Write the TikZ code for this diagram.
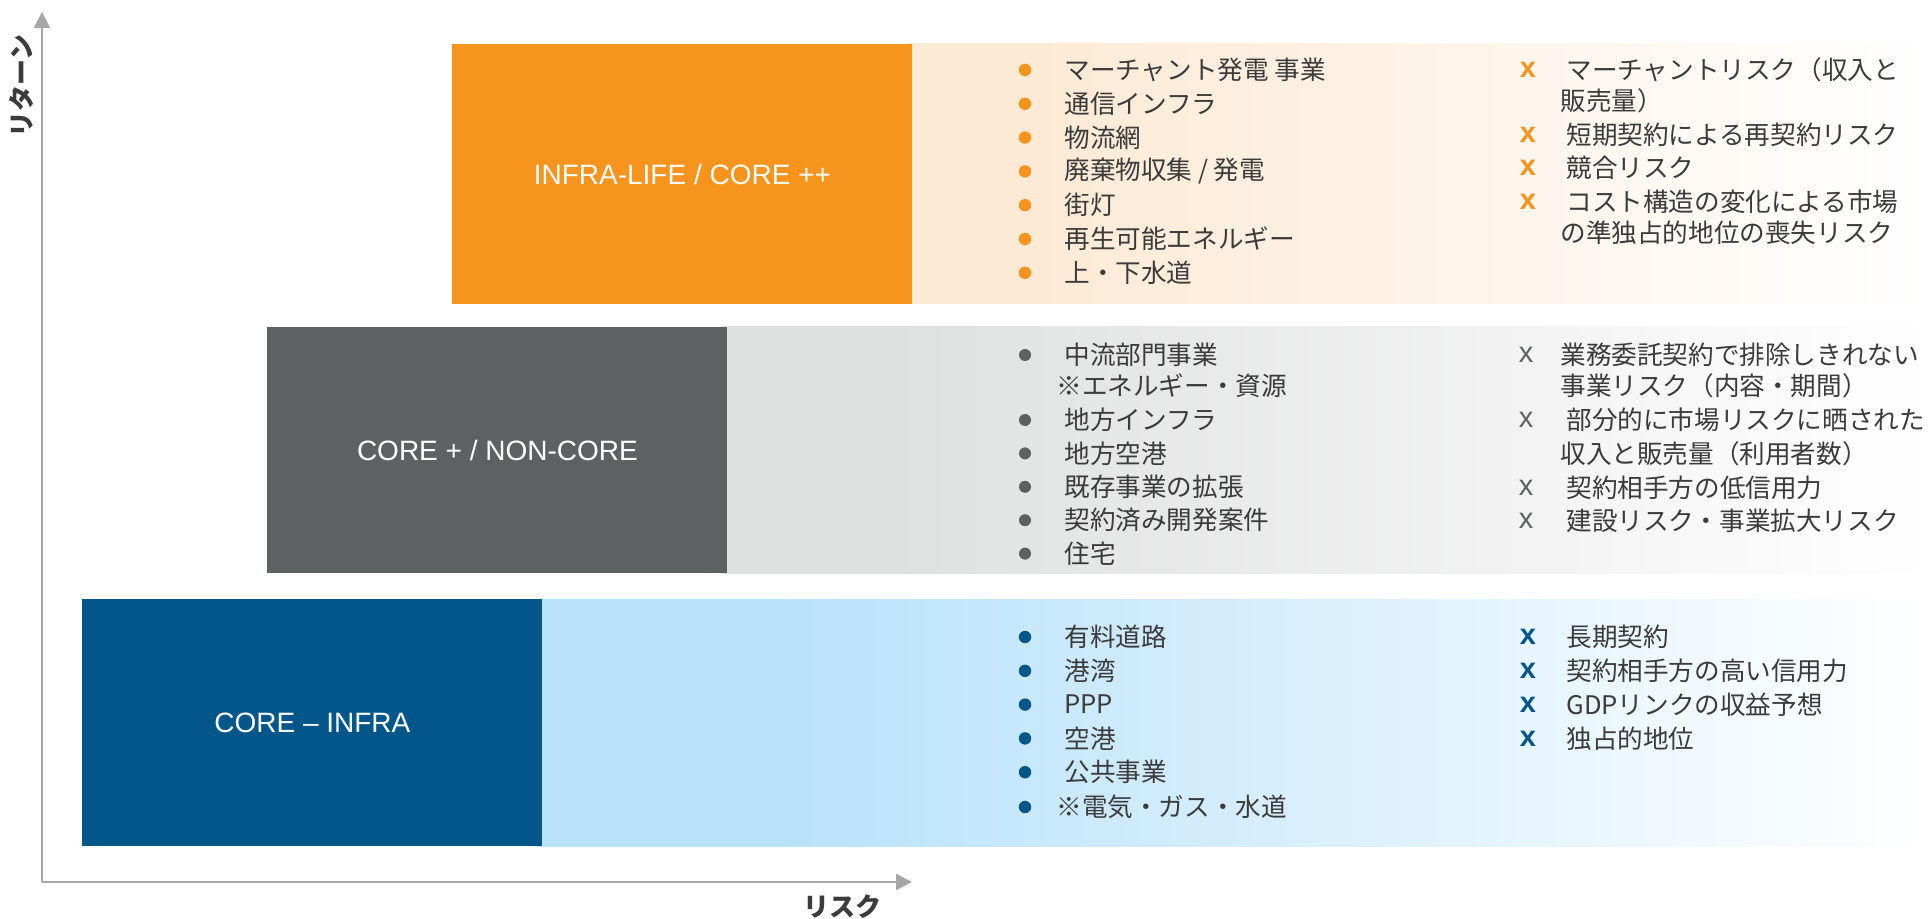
\documentclass[tikz,border=0pt]{standalone}
\usepackage{fontspec}
\setmainfont{Liberation Sans}
\newfontfamily\jpf{Noto Sans CJK JP}
\usetikzlibrary{arrows.meta}
\definecolor{orD}{HTML}{F7941E}
\definecolor{orL}{HTML}{FDEAD5}
\definecolor{grD}{HTML}{5E6161}
\definecolor{grL}{HTML}{DFE0E0}
\definecolor{blD}{HTML}{02568A}
\definecolor{blL}{HTML}{B9E2FB}
\definecolor{axg}{HTML}{A6A6A6}
\definecolor{txt}{HTML}{3B3B3B}
\pgfdeclarehorizontalshading{orfade}{100bp}{color(0bp)=(orL); color(31bp)=(orL); color(75bp)=(white); color(100bp)=(white)}
\pgfdeclarehorizontalshading{grfade}{100bp}{color(0bp)=(grL); color(32bp)=(grL); color(75bp)=(white); color(100bp)=(white)}
\pgfdeclarehorizontalshading{blfade}{100bp}{color(0bp)=(blL); color(34bp)=(blL); color(75bp)=(white); color(100bp)=(white)}
\tikzset{
  catbox/.style={anchor=north west, inner sep=0pt, minimum width=230pt, text=white,
    font=\fontsize{14}{17}\selectfont},
  item/.style={anchor=west, inner sep=0pt, text=txt, font=\jpf\fontsize{12.8}{15}\selectfont},
  xmark/.style={inner sep=0pt, font=\fontsize{14.5}{16}\selectfont\bfseries},
  xmarkthin/.style={inner sep=0pt, font=\fontsize{14.5}{16}\selectfont},
  axisline/.style={draw=axg, line width=1pt, -{Triangle[length=8pt,width=8pt]}},
  axlabel/.style={inner sep=0pt, text=txt, font=\jpf\bfseries\fontsize{13}{15}\selectfont},
}
\begin{document}
\begin{tikzpicture}[x=0.5pt,y=-0.5pt]
\useasboundingbox (0,0) rectangle (1930,919);

% light bands
\shade[shading=orfade] (906,44) rectangle (1930,304);
\shade[shading=grfade] (721,327) rectangle (1930,573);
\shade[shading=blfade] (536,599) rectangle (1930,846);

% category boxes
\node[catbox, fill=orD, minimum height=130pt] (bor) at (452,44) {INFRA-LIFE / CORE ++};
\node[catbox, fill=grD, minimum height=123pt] (bgr) at (267,327) {CORE + / NON-CORE};
\node[catbox, fill=blD, minimum height=123.5pt] (bbl) at (82,599) {CORE -- INFRA};

% axes
\coordinate (O) at (42,882);
\coordinate (ytip) at (42,12);
\coordinate (xtip) at (912,882);
\draw[axisline] (O) -- (ytip);
\draw[axisline] (O) -- (xtip);
\node[axlabel, rotate=90] (ylab) at (21,86) {リターン};
\node[axlabel] (xlab) at (842,907) {リスク};

% orange items
\foreach \t [count=\i] in {マーチャント発電 事業, 通信インフラ, 物流網, 廃棄物収集 / 発電, 街灯, 再生可能エネルギー, 上・下水道} {
  \pgfmathsetmacro\yy{70+33.8*(\i-1)}
  \fill[orD] (1025,\yy) circle (3.1pt);
  \node[item] (ob\i) at (1064,\yy) {\t};
}
\node[xmark, text=orD] (ox1) at (1528,70) {x};
\node[item] (or1) at (1566,70) {マーチャントリスク（収入と};
\node[item] (or1b) at (1560,101) {販売量）};
\node[xmark, text=orD] (ox2) at (1528,135) {x};
\node[item] (or2) at (1566,135) {短期契約による再契約リスク};
\node[xmark, text=orD] (ox3) at (1528,168) {x};
\node[item] (or3) at (1566,168) {競合リスク};
\node[xmark, text=orD] (ox4) at (1528,202) {x};
\node[item] (or4) at (1566,202) {コスト構造の変化による市場};
\node[item] (or4b) at (1560,233) {の準独占的地位の喪失リスク};

% gray items
\fill[grD] (1025,355) circle (3pt);
\node[item] (gb1) at (1064,355) {中流部門事業};
\node[item] (gb1b) at (1056,386) {※エネルギー・資源};
\foreach \t [count=\i] in {地方インフラ, 地方空港, 既存事業の拡張, 契約済み開発案件, 住宅} {
  \pgfmathsetmacro\yy{420+33.4*(\i-1)}
  \fill[grD] (1025,\yy) circle (3pt);
  \node[item] (gb\the\numexpr\i+1\relax) at (1064,\yy) {\t};
}
\node[xmarkthin, text=grD] (gx1) at (1526,355) {x};
\node[item] (gr1) at (1560,355) {業務委託契約で排除しきれない};
\node[item] (gr1b) at (1560,386) {事業リスク（内容・期間）};
\node[xmarkthin, text=grD] (gx2) at (1526,420) {x};
\node[item] (gr2) at (1566,420) {部分的に市場リスクに晒された};
\node[item] (gr2b) at (1560,454) {収入と販売量（利用者数）};
\node[xmarkthin, text=grD] (gx3) at (1526,488) {x};
\node[item] (gr3) at (1566,488) {契約相手方の低信用力};
\node[xmarkthin, text=grD] (gx4) at (1526,521) {x};
\node[item] (gr4) at (1566,521) {建設リスク・事業拡大リスク};

% blue items
\foreach \t [count=\i] in {有料道路, 港湾, PPP, 空港, 公共事業} {
  \pgfmathsetmacro\yy{637+33.8*(\i-1)}
  \fill[blD] (1025,\yy) circle (3.1pt);
  \node[item] (bb\i) at (1064,\yy) {\t};
}
\fill[blD] (1025,807) circle (3.1pt);
\node[item] (bb6) at (1056,807) {※電気・ガス・水道};
\foreach \t [count=\i] in {長期契約, 契約相手方の高い信用力, GDPリンクの収益予想, 独占的地位} {
  \pgfmathsetmacro\yy{637+33.8*(\i-1)}
  \node[xmark, text=blD] (bx\i) at (1528,\yy) {x};
  \node[item] (br\i) at (1566,\yy) {\t};
}
\end{tikzpicture}
\end{document}
